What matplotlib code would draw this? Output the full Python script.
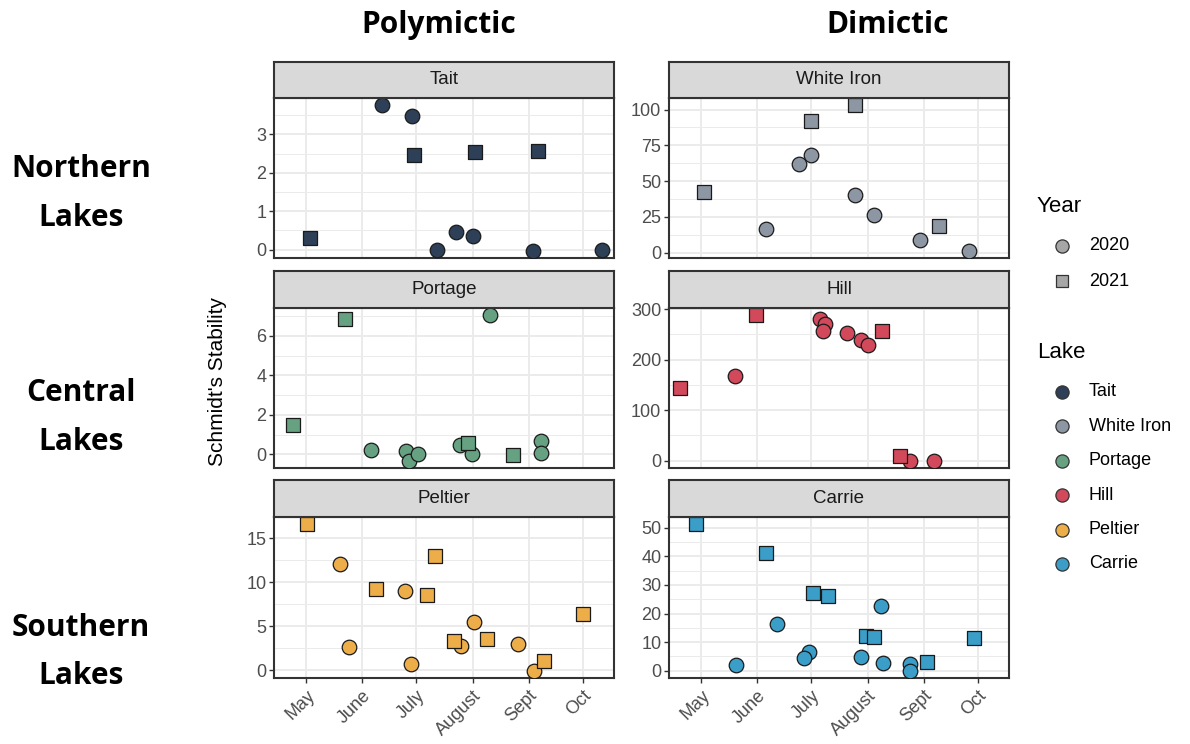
import matplotlib
matplotlib.use("Agg")
import matplotlib.pyplot as plt
from matplotlib.lines import Line2D
from matplotlib.ticker import FixedLocator, AutoMinorLocator

# ---------------- data (day of year, Schmidt's stability) ----------------
lakes = ["Tait", "White Iron", "Portage", "Hill", "Peltier", "Carrie"]
lake_colors = ["#2e4057", "#8d96a3", "#66a182", "#d1495b", "#edae49", "#3a9ec8"]
years = ["2020", "2021"]

month_doy = [121, 152, 182, 213, 244, 274]
month_labels = ["May", "June", "July", "August", "Sept", "Oct"]

tait_2020_doy = [163.2, 179.4, 193.2, 203.9, 213.2, 246.3, 284.5]
tait_2020_ss = [3.76, 3.47, -0.01, 0.47, 0.36, -0.03, -0.01]
tait_2021_doy = [123.2, 180.9, 214.4, 249.1]
tait_2021_ss = [0.30, 2.47, 2.54, 2.57]

whiteiron_2020_doy = [156.8, 175.2, 181.6, 206.0, 216.8, 241.9, 269.2]
whiteiron_2020_ss = [16.8, 62.0, 68.0, 40.1, 26.5, 9.0, 1.4]
whiteiron_2021_doy = [122.5, 182.0, 205.8, 252.2]
whiteiron_2021_ss = [42.4, 92.2, 103.0, 18.9]

portage_2020_doy = [156.9, 176.3, 177.9, 183.1, 206.1, 212.8, 222.5, 250.7, 250.7]
portage_2020_ss = [0.22, 0.15, -0.33, 0.02, 0.45, 0.0, 7.05, 0.65, 0.08]
portage_2021_doy = [114.0, 142.4, 210.2, 235.1]
portage_2021_ss = [1.47, 6.88, 0.55, -0.05]

hill_2020_doy = [139.8, 186.8, 189.4, 188.1, 201.4, 209.6, 213.0, 236.6, 249.8]
hill_2020_ss = [166.9, 280.5, 271.4, 256.5, 252.6, 239.6, 229.2, 0.0, 0.0]
hill_2021_doy = [109.4, 151.4, 221.1, 231.0]
hill_2021_ss = [144.2, 287.7, 255.8, 9.7]

peltier_2020_doy = [139.8, 144.6, 175.7, 178.7, 206.7, 213.5, 238.0, 246.7]
peltier_2020_ss = [12.11, 2.70, 9.04, 0.75, 2.81, 5.51, 3.04, -0.04]
peltier_2021_doy = [121.7, 159.5, 187.7, 192.5, 202.5, 220.7, 252.6, 273.8]
peltier_2021_ss = [16.57, 9.26, 8.59, 13.01, 3.34, 3.60, 1.01, 6.34]

carrie_2020_doy = [140.4, 162.8, 180.5, 177.6, 209.1, 220.3, 221.6, 236.4, 236.4]
carrie_2020_ss = [1.97, 16.2, 6.6, 4.6, 4.9, 22.6, 2.7, 2.3, 0.0]
carrie_2021_doy = [118.4, 157.1, 182.6, 191.2, 212.0, 216.7, 246.0, 271.6]
carrie_2021_ss = [51.2, 41.0, 27.2, 26.2, 12.2, 11.7, 3.0, 11.5]

lake_data = {
    "Tait": (tait_2020_doy, tait_2020_ss, tait_2021_doy, tait_2021_ss),
    "White Iron": (whiteiron_2020_doy, whiteiron_2020_ss, whiteiron_2021_doy, whiteiron_2021_ss),
    "Portage": (portage_2020_doy, portage_2020_ss, portage_2021_doy, portage_2021_ss),
    "Hill": (hill_2020_doy, hill_2020_ss, hill_2021_doy, hill_2021_ss),
    "Peltier": (peltier_2020_doy, peltier_2020_ss, peltier_2021_doy, peltier_2021_ss),
    "Carrie": (carrie_2020_doy, carrie_2020_ss, carrie_2021_doy, carrie_2021_ss),
}
y_ticks = {
    "Tait": [0, 1, 2, 3],
    "White Iron": [0, 25, 50, 75, 100],
    "Portage": [0, 2, 4, 6],
    "Hill": [0, 100, 200, 300],
    "Peltier": [0, 5, 10, 15],
    "Carrie": [0, 10, 20, 30, 40, 50],
}

col_titles = ["Polymictic", "Dimictic"]
row_titles = [("Northern", "Lakes"), ("Central", "Lakes"), ("Southern", "Lakes")]

# ---------------- figure ----------------
W, H = 1190, 744
fig = plt.figure(figsize=(W / 100, H / 100), dpi=100)
plt.rcParams["font.family"] = ["Liberation Sans", "DejaVu Sans"]

col_x = [(274, 614), (669, 1009)]
row_y = [(62, 98, 258), (271, 308, 468), (480, 517, 678)]  # strip top, plot top, plot bottom
xlim = (103.3, 291.1)

BORDER = "#333333"
GRID = "#ebebeb"
TICKTXT = "#4d4d4d"


def fx(px):
    return px / W


def fy(py):
    return 1 - py / H


for r in range(3):
    for c in range(2):
        lake = lakes[r * 2 + c]
        color = lake_colors[r * 2 + c]
        x0, x1 = col_x[c]
        st, pt, pb = row_y[r]
        ax = fig.add_axes([fx(x0), fy(pb), fx(x1 - x0), (pb - pt) / H])
        sax = fig.add_axes([fx(x0), fy(pt), fx(x1 - x0), (pt - st) / H])

        d20x, d20y, d21x, d21y = lake_data[lake]
        ax.scatter(d20x, d20y, s=110, marker="o", facecolor=color,
                   edgecolor="#1a1a1a", linewidth=0.9, zorder=3)
        ax.scatter(d21x, d21y, s=100, marker="s", facecolor=color,
                   edgecolor="#1a1a1a", linewidth=0.9, zorder=3)

        allv = list(d20y) + list(d21y)
        lo, hi = min(allv), max(allv)
        pad = 0.05 * (hi - lo)
        ax.set_ylim(lo - pad, hi + pad)
        ax.set_xlim(*xlim)

        ax.yaxis.set_major_locator(FixedLocator(y_ticks[lake]))
        ax.yaxis.set_minor_locator(AutoMinorLocator(2))
        ax.xaxis.set_major_locator(FixedLocator(month_doy))
        ax.grid(True, which="major", color=GRID, linewidth=1.4, zorder=0)
        ax.grid(True, which="minor", axis="y", color=GRID, linewidth=0.7, zorder=0)
        ax.set_axisbelow(True)
        ax.tick_params(axis="y", which="major", direction="out", length=3.5,
                       width=1.0, color=BORDER, labelsize=13, labelcolor=TICKTXT, pad=2)
        ax.tick_params(axis="y", which="minor", length=0)
        if r == 2:
            ax.set_xticklabels(month_labels, rotation=45, ha="right",
                               va="top", rotation_mode="anchor")
            ax.tick_params(axis="x", direction="out", length=3.5, width=1.0,
                           color=BORDER, labelsize=13, labelcolor=TICKTXT, pad=3)
        else:
            ax.tick_params(axis="x", length=0, labelbottom=False)
        for sp in ax.spines.values():
            sp.set_color(BORDER)
            sp.set_linewidth(1.5)

        sax.set_facecolor("#d9d9d9")
        sax.set_xticks([])
        sax.set_yticks([])
        for sp in sax.spines.values():
            sp.set_color(BORDER)
            sp.set_linewidth(1.5)
        sax.text(0.5, 0.5, lake, transform=sax.transAxes, ha="center",
                 va="center", fontsize=13.5, color="#1a1a1a")

# y label
fig.text(fx(218), fy(382), "Schmidt's Stability", rotation=90, ha="center",
         va="center", fontsize=15)

# column titles
bold = dict(family=["Open Sans", "DejaVu Sans"], fontweight="bold", fontsize=21.5)
fig.text(fx(439), fy(33), col_titles[0], ha="center", va="baseline", **bold)
fig.text(fx(888), fy(33), col_titles[1], ha="center", va="baseline", **bold)

# row titles
row_base = [(177, 226), (401, 450), (636, 684)]
for (l1, l2), (b1, b2) in zip(row_titles, row_base):
    fig.text(fx(81), fy(b1), l1, ha="center", va="baseline", **bold)
    fig.text(fx(81), fy(b2), l2, ha="center", va="baseline", **bold)

# legends (manual)
fig.text(fx(1037), fy(207), "Year", ha="left", va="center", fontsize=16)
year_markers = ["o", "s"]
for i, (yr, mk) in enumerate(zip(years, year_markers)):
    yy = 246 + 35 * i
    fig.add_artist(Line2D([fx(1062)], [fy(yy)], marker=mk, markersize=9.5 if mk == "o" else 8.5,
                          markerfacecolor="#a6a6a6", markeredgecolor="#333333",
                          markeredgewidth=0.9, linestyle="none", transform=fig.transFigure))
    fig.text(fx(1089), fy(yy), yr, ha="left", va="center", fontsize=13)

fig.text(fx(1037), fy(353), "Lake", ha="left", va="center", fontsize=16)
for i, (lk, col) in enumerate(zip(lakes, lake_colors)):
    yy = 392 + 34.4 * i
    fig.add_artist(Line2D([fx(1062)], [fy(yy)], marker="o", markersize=9.5,
                          markerfacecolor=col, markeredgecolor="#333333",
                          markeredgewidth=0.9, linestyle="none", transform=fig.transFigure))
    fig.text(fx(1089), fy(yy), lk, ha="left", va="center", fontsize=13)

fig.savefig("out.png", dpi=100)
